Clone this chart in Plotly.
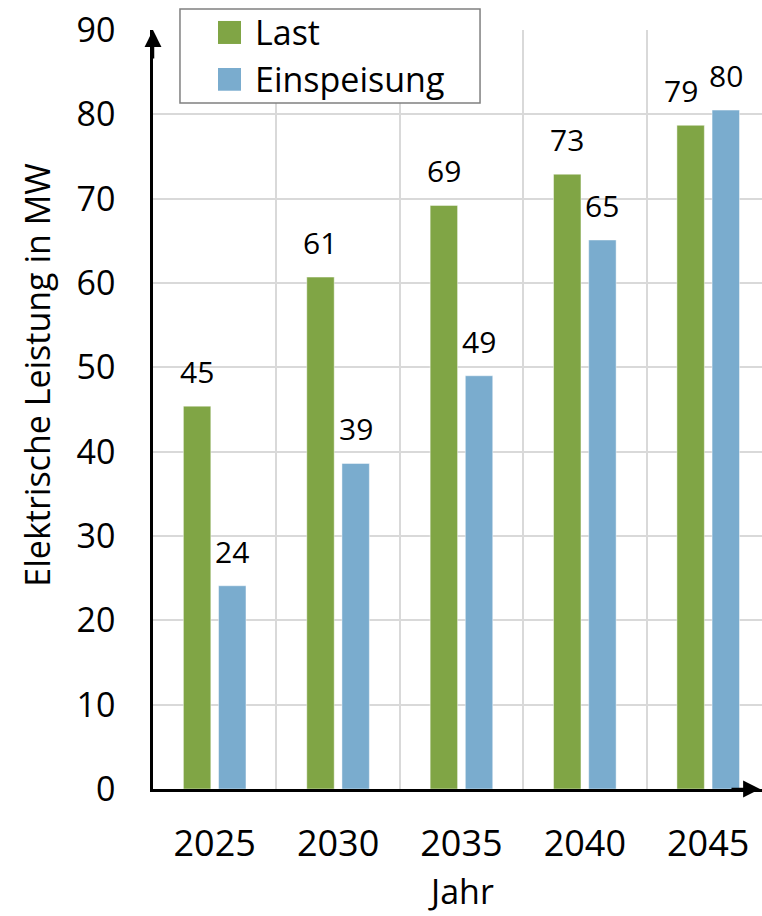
import plotly.graph_objects as go

years = ["2025", "2030", "2035", "2040", "2045"]
last = [45.4, 60.7, 69.2, 72.9, 78.7]
einspeisung = [24.1, 38.6, 49.0, 65.1, 80.5]
series_names = ["Last", "Einspeisung"]
colors = ["#80A545", "#7AACCE"]

FONT = "Open Sans, Segoe UI, sans-serif"
BLACK = "#000000"

fig = go.Figure()
for name, vals, col in zip(series_names, [last, einspeisung], colors):
    fig.add_trace(go.Bar(
        x=years, y=vals, name=name, showlegend=False,
        marker=dict(color=col, line=dict(color="rgba(255,255,255,0.45)", width=1)),
    ))

# data labels (x given as category index)
for i, (vals, shift) in enumerate(zip([last, einspeisung], [-17.6, 17.6])):
    for j, v in enumerate(vals):
        xs = shift
        if i == 0 and j == len(years) - 1:
            xs -= 10  # avoid collision with neighbour label
        fig.add_annotation(
            x=j, y=v, xref="x", yref="y", text=f"{v:.0f}", showarrow=False,
            xshift=xs, yshift=12, yanchor="bottom",
            font=dict(family=FONT, size=30, color=BLACK),
        )

# axis arrows
fig.add_annotation(x=0, y=1, xref="paper", yref="paper", text="", showarrow=True,
                   ax=0, ay=30, arrowhead=2, arrowsize=1.35, arrowwidth=2.5, arrowcolor=BLACK)
fig.add_annotation(x=0.9967, y=0, xref="paper", yref="paper", text="", showarrow=True,
                   ax=-30, ay=0, arrowhead=2, arrowsize=1.35, arrowwidth=2.5, arrowcolor=BLACK)

# axis titles
fig.add_annotation(x=-0.19, y=0.545, xref="paper", yref="paper", text="Elektrische Leistung in MW",
                   textangle=-90, showarrow=False, xanchor="center", yanchor="middle",
                   font=dict(family=FONT, size=34, color=BLACK))
fig.add_annotation(x=0.5055, y=-0.1345, xref="paper", yref="paper", text="Jahr",
                   showarrow=False, xanchor="center", yanchor="middle", borderpad=0,
                   font=dict(family=FONT, size=34, color=BLACK))

# legend box (drawn manually to match the large swatches)
fig.add_shape(type="rect", xref="paper", yref="paper", x0=0.0443, x1=0.537, y0=0.9038, y1=1.0277,
              line=dict(color="#808080", width=1.5), fillcolor="white", layer="above")
leg_rows = [(1.0119, 0.9816), (0.9499, 0.9200)]
for name, col, (ytop, ybot) in zip(series_names, colors, leg_rows):
    fig.add_shape(type="rect", xref="paper", yref="paper", x0=0.1067, x1=0.1445, y0=ybot, y1=ytop,
                  line=dict(width=0), fillcolor=col, layer="above")
    fig.add_annotation(x=0.1642, y=(ytop + ybot) / 2, xref="paper", yref="paper", text=name,
                       showarrow=False, xanchor="left", yanchor="middle",
                       font=dict(family=FONT, size=34, color=BLACK))

fig.update_layout(
    width=762, height=916,
    margin=dict(l=153, r=0, t=30, b=127),
    plot_bgcolor="white", paper_bgcolor="white",
    barmode="group", bargap=0.43, bargroupgap=0.22,
    font=dict(family=FONT, color=BLACK),
    showlegend=False,
    xaxis=dict(
        type="category", range=[-0.5, 4.436], tickson="boundaries", automargin=False,
        showgrid=True, gridcolor="#d9d9d9", gridwidth=1.5,
        showline=True, linecolor=BLACK, linewidth=2.5,
        ticks="", ticklabelstandoff=21,
        tickfont=dict(family=FONT, size=36, color=BLACK),
    ),
    yaxis=dict(
        range=[0, 90], dtick=10, tick0=0, automargin=False,
        showgrid=True, gridcolor="#d9d9d9", gridwidth=1.5, zeroline=False,
        showline=True, linecolor=BLACK, linewidth=2.5,
        ticks="", ticklabelstandoff=28,
        tickfont=dict(family=FONT, size=34, color=BLACK),
    ),
)

fig.write_html("out.html")
